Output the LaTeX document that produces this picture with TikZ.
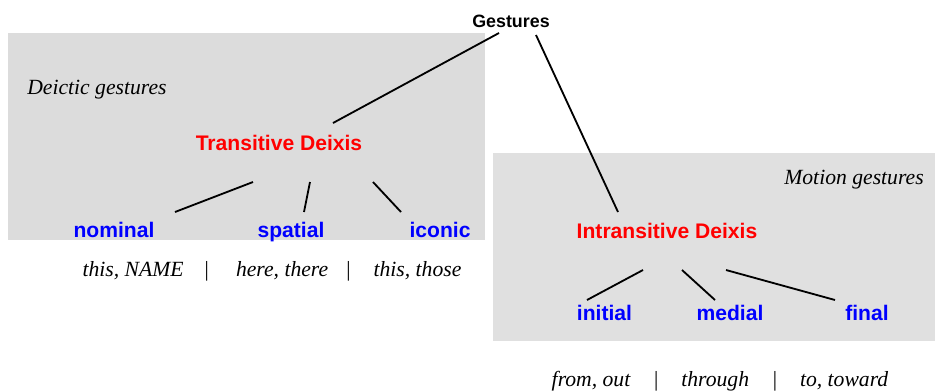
\documentclass[tikz,border=0pt]{standalone}
\usepackage{fontspec}
\setmainfont{Liberation Serif}
\setsansfont{Liberation Sans}
\usepackage{xcolor}
\usepackage{tikz}
\usetikzlibrary{arrows, arrows.meta}

\definecolor{deixred}{RGB}{255,0,0}
\definecolor{deixblue}{RGB}{0,0,255}
\definecolor{boxgrayA}{RGB}{220,220,220}
\definecolor{boxgrayB}{RGB}{224,224,224}

\tikzset{
  root/.style={font=\sffamily\bfseries\fontsize{12.7}{15}\selectfont, inner sep=0pt, anchor=base},
  kind/.style={font=\sffamily\bfseries\fontsize{15}{18}\selectfont, text=deixred, inner sep=0pt, anchor=base},
  leaf/.style={font=\sffamily\bfseries\fontsize{15}{18}\selectfont, text=deixblue, inner sep=0pt, anchor=base},
  gloss/.style={font=\itshape\fontsize{15.4}{18}\selectfont, inner sep=0pt, anchor=base},
  branch/.style={black, line width=1.3pt},
}

\begin{document}
\begin{tikzpicture}[x=0.025cm, y=-0.025cm]
\useasboundingbox (0,0) rectangle (935,391);
\fill[boxgrayA] (8,33) rectangle (485,240);
\fill[boxgrayB] (493,153) rectangle (935,341);
\node[root] (gestures) at (511,27) {Gestures};
\node[gloss, anchor=base west] (deictic) at (27,94) {Deictic gestures};
\node[gloss, anchor=base east] (motion) at (924,184) {Motion gestures};
\node[kind] (trans) at (279,150) {Transitive Deixis};
\node[kind] (intrans) at (667,238) {Intransitive Deixis};
\node[leaf] (nominal) at (114,237) {nominal};
\node[leaf] (spatial) at (291,237) {spatial};
\node[leaf] (iconic) at (440,237) {iconic};
\node[leaf] (initial) at (604.5,320) {initial};
\node[leaf] (medial) at (730,320) {medial};
\node[leaf] (final) at (867,320) {final};
\node[gloss] (transgloss) at (272,276) {this, NAME\hspace{14pt}|\hspace{19pt}here, there\hspace{12pt}|\hspace{16pt}this, those};
\node[gloss] (intransgloss) at (720,386) {from, out\hspace{16pt}|\hspace{16pt}through\hspace{16pt}|\hspace{16pt}to, toward};
\draw[branch] ([shift={(-12,6)}]gestures.base) -- ([shift={(54,-27)}]trans.base);
\draw[branch] ([shift={(25,8)}]gestures.base) -- ([shift={(-49,-26)}]intrans.base);
\draw[branch] ([shift={(-26,32)}]trans.base) -- ([shift={(61,-25)}]nominal.base);
\draw[branch] ([shift={(31,32)}]trans.base) -- ([shift={(13,-25)}]spatial.base);
\draw[branch] ([shift={(94,32)}]trans.base) -- ([shift={(-39,-25)}]iconic.base);
\draw[branch] ([shift={(-24,32)}]intrans.base) -- ([shift={(-17.5,-20)}]initial.base);
\draw[branch] ([shift={(15,32)}]intrans.base) -- ([shift={(-15,-20)}]medial.base);
\draw[branch] ([shift={(59,32)}]intrans.base) -- ([shift={(-32,-20)}]final.base);
\end{tikzpicture}
\end{document}
